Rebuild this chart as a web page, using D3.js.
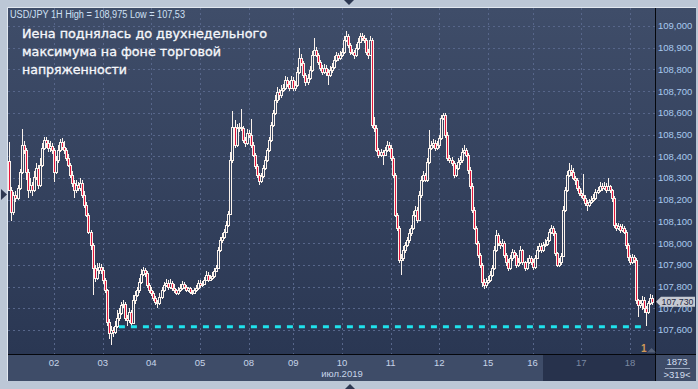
<!DOCTYPE html>
<html><head><meta charset="utf-8">
<script src="https://cdn.jsdelivr.net/npm/d3@7"></script>
<style>html,body{margin:0;padding:0;background:#bcc7d6;overflow:hidden}svg{display:block}</style>
</head><body>
<svg id="c" width="698" height="389"></svg>
<script>
// ---------- DATA ----------
const headerText = "USD/JPY 1H High = 108,975 Low = 107,53";
const titleLines = ["Иена поднялась до двухнедельного", "максимума на фоне торговой", "напряженности"];
const dayLabels = ["01","02","03","04","05","08","09","10","11","12","15","16","17","18"];
const dayCounts = [22,24,24,24,24,22,24,24,24,24,22,24,24,12];
const monthLabel = "июл.2019";
const priceTicks = [107.6,107.7,107.8,107.9,108.0,108.1,108.2,108.3,108.4,108.5,108.6,108.7,108.8,108.9,109.0];
const firstOpen = 108.378;
const closes = [
 108.245,108.143,108.222,108.208,108.254,108.328,108.452,108.429,108.328,108.245,108.268,108.245,108.305,108.346,108.268,108.360,108.438,108.475,108.461,108.438,108.447,108.429,
 108.328,108.383,108.429,108.466,108.443,108.429,108.392,108.360,108.314,108.277,108.245,108.268,108.254,108.277,108.222,108.176,108.130,108.051,107.991,107.885,107.839,107.876,107.890,107.876,
 107.830,107.784,107.637,107.586,107.600,107.591,107.618,107.655,107.678,107.715,107.720,107.655,107.646,107.683,107.632,107.738,107.761,107.784,107.821,107.858,107.876,107.862,107.807,107.784,
 107.770,107.747,107.729,107.724,107.752,107.784,107.807,107.816,107.798,107.816,107.793,107.784,107.770,107.784,107.793,107.812,107.798,107.784,107.793,107.775,107.770,107.784,107.793,107.816,
 107.807,107.812,107.830,107.853,107.830,107.839,107.849,107.872,107.885,107.968,108.014,108.028,108.051,108.083,108.134,108.383,108.535,108.452,108.530,108.535,108.530,108.475,108.461,108.507,
 108.498,108.452,108.406,108.355,108.314,108.286,108.309,108.346,108.383,108.429,108.475,108.544,108.599,108.659,108.696,108.682,108.705,108.715,108.751,108.733,108.715,108.751,
 108.715,108.728,108.788,108.853,108.830,108.774,108.742,108.761,108.797,108.866,108.890,108.866,108.834,108.807,108.788,108.807,108.788,108.774,108.797,108.811,108.843,108.866,108.853,108.866,
 108.880,108.936,108.954,108.912,108.880,108.880,108.866,108.899,108.926,108.954,108.945,108.936,108.880,108.866,108.936,108.544,108.530,108.429,108.406,108.420,108.406,108.429,108.452,108.438,
 108.392,108.314,108.130,108.070,107.922,107.931,107.968,107.991,108.014,108.047,108.070,108.130,108.153,108.107,108.222,108.291,108.314,108.291,108.374,108.438,108.452,108.461,108.438,108.452,
 108.484,108.576,108.590,108.498,108.392,108.383,108.369,108.314,108.346,108.374,108.383,108.420,108.429,108.406,108.337,108.263,108.153,108.070,108.000,107.945,107.899,107.821,107.807,107.821,
 107.830,107.853,107.885,107.968,108.037,108.000,107.991,108.000,107.945,107.913,107.885,107.931,107.959,107.945,107.899,107.913,107.968,107.913,107.885,107.913,107.931,107.913,
 107.890,107.931,107.968,107.987,107.968,107.991,107.996,108.014,108.051,108.070,108.047,107.954,107.899,107.913,107.941,108.153,108.245,108.314,108.337,108.328,108.300,108.291,108.254,108.231,
 108.222,108.208,108.185,108.176,108.190,108.199,108.208,108.235,108.245,108.263,108.254,108.263,108.245,108.263,108.245,108.208,108.083,108.070,108.079,108.060,108.070,108.051,107.991,107.936,
 107.913,107.936,107.922,107.738,107.715,107.724,107.738,107.701,107.683,107.724,107.747,107.729
];
const highs = [
 108.467,108.26,108.235,108.24,108.27,108.34,108.525,108.47,108.44,108.34,108.30,108.28,108.33,108.37,108.36,108.39,108.46,108.49,108.49,108.475,108.47,108.46,
 108.44,108.40,108.45,108.48,108.485,108.47,108.44,108.41,108.37,108.33,108.29,108.29,108.28,108.30,108.29,108.24,108.19,108.14,108.06,108.00,107.90,107.91,107.91,107.905,
 107.89,107.84,107.79,107.65,107.62,107.615,107.64,107.69,107.70,107.73,107.74,107.73,107.67,107.70,107.69,107.76,107.78,107.80,107.84,107.88,107.89,107.885,107.87,107.815,
 107.80,107.78,107.755,107.74,107.77,107.80,107.82,107.835,107.83,107.835,107.825,107.81,107.79,107.80,107.81,107.825,107.82,107.805,107.80,107.80,107.785,107.795,107.805,107.83,
 107.83,107.825,107.845,107.87,107.865,107.855,107.865,107.885,107.90,107.98,108.03,108.045,108.065,108.10,108.15,108.42,108.61,108.565,108.55,108.555,108.62,108.54,108.49,108.525,
 108.52,108.57,108.465,108.415,108.365,108.325,108.325,108.36,108.40,108.44,108.49,108.56,108.615,108.68,108.72,108.71,108.73,108.735,108.77,108.765,108.745,108.77,
 108.765,108.745,108.81,108.90,108.87,108.84,108.785,108.78,108.815,108.885,108.945,108.905,108.875,108.845,108.82,108.825,108.82,108.80,108.815,108.83,108.86,108.88,108.875,108.885,
 108.90,108.955,108.975,108.965,108.92,108.895,108.89,108.915,108.945,108.97,108.97,108.96,108.945,108.895,108.955,108.945,108.58,108.545,108.44,108.435,108.43,108.445,108.47,108.465,
 108.45,108.40,108.325,108.14,108.08,107.95,107.985,108.005,108.03,108.065,108.085,108.15,108.17,108.165,108.24,108.31,108.33,108.325,108.39,108.52,108.47,108.48,108.475,108.47,
 108.50,108.59,108.60,108.60,108.51,108.405,108.395,108.38,108.36,108.39,108.40,108.44,108.45,108.44,108.415,108.35,108.275,108.165,108.08,108.01,107.955,107.91,107.835,107.84,
 107.85,107.87,107.90,107.985,108.06,108.045,108.01,108.02,108.01,107.955,107.925,107.945,107.975,107.97,107.955,107.93,107.985,107.975,107.92,107.93,107.945,107.94,
 107.925,107.945,107.985,108.00,108.00,108.005,108.02,108.03,108.065,108.085,108.08,108.055,107.96,107.93,107.955,108.17,108.26,108.33,108.37,108.36,108.345,108.31,108.30,108.265,
 108.245,108.32,108.22,108.20,108.205,108.215,108.225,108.25,108.26,108.28,108.275,108.28,108.275,108.30,108.27,108.25,108.215,108.095,108.095,108.09,108.09,108.08,108.06,108.00,
 107.945,107.95,107.945,107.93,107.745,107.74,107.755,107.75,107.71,107.735,107.765,107.76
];
const lows = [
 108.24,108.10,108.13,108.19,108.20,108.245,108.32,108.41,108.29,108.21,108.23,108.215,108.235,108.29,108.25,108.26,108.35,108.43,108.44,108.42,108.42,108.41,
 108.28,108.32,108.37,108.42,108.43,108.41,108.38,108.35,108.30,108.26,108.21,108.23,108.24,108.24,108.21,108.16,108.12,108.04,107.97,107.76,107.82,107.83,107.86,107.86,
 107.81,107.77,107.62,107.56,107.53,107.57,107.58,107.61,107.64,107.67,107.70,107.64,107.62,107.63,107.62,107.63,107.72,107.75,107.77,107.81,107.85,107.845,107.795,107.77,
 107.755,107.735,107.715,107.70,107.715,107.745,107.775,107.80,107.785,107.79,107.78,107.77,107.76,107.76,107.775,107.785,107.79,107.775,107.775,107.765,107.76,107.765,107.775,107.785,
 107.795,107.80,107.805,107.825,107.82,107.825,107.83,107.84,107.865,107.88,107.96,108.00,108.02,108.045,108.075,108.13,108.37,108.44,108.445,108.51,108.515,108.46,108.445,108.45,
 108.485,108.44,108.395,108.34,108.30,108.27,108.275,108.30,108.335,108.375,108.42,108.465,108.535,108.59,108.645,108.66,108.67,108.695,108.705,108.72,108.70,108.71,
 108.70,108.70,108.72,108.78,108.815,108.76,108.725,108.73,108.75,108.79,108.86,108.855,108.82,108.795,108.775,108.78,108.77,108.73,108.765,108.785,108.80,108.835,108.84,108.845,
 108.855,108.87,108.925,108.90,108.865,108.865,108.85,108.855,108.89,108.92,108.93,108.92,108.865,108.85,108.86,108.53,108.51,108.42,108.39,108.395,108.36,108.40,108.42,108.42,
 108.38,108.30,108.12,108.055,107.91,107.855,107.92,107.955,107.98,108.00,108.035,108.06,108.12,108.095,108.10,108.21,108.28,108.28,108.28,108.365,108.43,108.44,108.425,108.43,
 108.44,108.475,108.565,108.485,108.38,108.37,108.355,108.30,108.305,108.335,108.36,108.37,108.41,108.395,108.32,108.25,108.14,108.06,107.99,107.93,107.885,107.80,107.79,107.795,
 107.81,107.82,107.845,107.875,107.96,107.985,107.975,107.98,107.93,107.895,107.87,107.875,107.92,107.93,107.885,107.89,107.905,107.90,107.87,107.875,107.905,107.90,
 107.875,107.88,107.925,107.96,107.955,107.96,107.98,107.985,108.005,108.04,108.035,107.94,107.89,107.89,107.90,107.935,108.145,108.235,108.305,108.31,108.29,108.27,108.24,108.215,
 108.21,108.195,108.17,108.15,108.165,108.18,108.19,108.20,108.225,108.235,108.24,108.245,108.23,108.24,108.23,108.19,108.07,108.055,108.06,108.045,108.05,108.04,107.975,107.92,
 107.90,107.905,107.91,107.72,107.66,107.70,107.69,107.68,107.62,107.675,107.715,107.715
];
const supportLevel = 107.615;
const supportFromIdx = 54, supportToIdx = 313;
const lastPrice = 107.730;
const barsTotal = "1873", barsVisible = ">319<";

// ---------- LAYOUT ----------
const svg = d3.select("#c");
const N = closes.length;
const PL = 8, PT = 8, PR = 655, PB = 354.5, RR = 696, BB = 381;
const x = d3.scaleLinear().domain([0, N - 1]).range([9.4, 9.4 + (N - 1) * 2.028]);
const y = d3.scaleLinear().domain([107.6, 109.0]).range([330, 26]);
const fmtP = v => d3.format(".3f")(v).replace(".", ",");
const sans = "Liberation Sans, Arial, sans-serif";

const defs = svg.append("defs");
const g1 = defs.append("linearGradient").attr("id","bg").attr("x1",0).attr("y1",0).attr("x2",0).attr("y2",1);
g1.append("stop").attr("offset","0%").attr("stop-color","#3f4d69");
g1.append("stop").attr("offset","100%").attr("stop-color","#2a3753");
defs.append("clipPath").attr("id","plotclip").append("rect").attr("x",PL).attr("y",PT).attr("width",PR-PL).attr("height",PB-PT);

svg.append("rect").attr("width",698).attr("height",389).attr("fill","#bcc7d6");
svg.append("rect").attr("x",PL).attr("y",PT).attr("width",RR-PL).attr("height",PB-PT).attr("fill","url(#bg)");
svg.append("rect").attr("x",PL).attr("y",355).attr("width",PR-PL).attr("height",BB-355).attr("fill","#3e4c68");
svg.append("rect").attr("x",543).attr("y",355).attr("width",PR-543).attr("height",BB-355).attr("fill","#27324c");
svg.append("rect").attr("x",PR).attr("y",355).attr("width",RR-PR).attr("height",BB-355).attr("fill","#3e4c68");
svg.append("line").attr("x1",PL-0.5).attr("x2",RR).attr("y1",PT-0.5).attr("y2",PT-0.5).attr("stroke","#e2e8f0");
svg.append("line").attr("x1",PL-0.5).attr("x2",PL-0.5).attr("y1",PT-0.5).attr("y2",BB).attr("stroke","#e2e8f0");

// grid
const plot = svg.append("g").attr("clip-path","url(#plotclip)");
plot.selectAll("line.hg").data(priceTicks).join("line")
  .attr("x1",PL).attr("x2",PR).attr("y1",d=>Math.round(y(d))+0.5).attr("y2",d=>Math.round(y(d))+0.5)
  .attr("stroke","#57668a").attr("stroke-dasharray","2,3");
const dayStarts = [];
let acc = 0;
dayCounts.forEach(c=>{ dayStarts.push(acc); acc += c; });
const dayTicks = dayStarts.map((s,k)=>({idx:s,label:dayLabels[k]})).slice(1);
plot.selectAll("line.vg").data(dayTicks).join("line")
  .attr("x1",d=>Math.round(x(d.idx))+0.5).attr("x2",d=>Math.round(x(d.idx))+0.5)
  .attr("y1",PT).attr("y2",PB).attr("stroke","#57668a").attr("stroke-dasharray","2,3");

// candles
const candles = d3.range(N).map(i=>{
  const o = i===0 ? firstOpen : closes[i-1], c = closes[i];
  return {i,o,c,h:Math.max(highs[i],o,c),l:Math.min(lows[i],o,c)};
});
const cg = plot.append("g");
candles.forEach(d=>{
  const cx = Math.round(x(d.i));
  let yT = Math.round(y(Math.max(d.o,d.c))), yB = Math.round(y(Math.min(d.o,d.c)));
  if (yB - yT < 1) yB = yT + 1;
  const yH = Math.round(y(d.h)), yL = Math.round(y(d.l));
  if (yH < yT) cg.append("line").attr("x1",cx+0.5).attr("x2",cx+0.5).attr("y1",yH).attr("y2",yT).attr("stroke","#fbf3ec");
  if (yL > yB+1) cg.append("line").attr("x1",cx+0.5).attr("x2",cx+0.5).attr("y1",yB+1).attr("y2",yL).attr("stroke","#fbf3ec");
  cg.append("rect").attr("x",cx-0.5).attr("y",yT+0.5).attr("width",2).attr("height",yB-yT)
    .attr("fill", d.c < d.o ? "#e3163c" : "none").attr("stroke","#fbf3ec").attr("stroke-width",1);
});

// support dashed line
plot.append("line").attr("x1",x(supportFromIdx)).attr("x2",x(supportToIdx))
  .attr("y1",y(supportLevel)).attr("y2",y(supportLevel))
  .attr("stroke","#1fe2ec").attr("stroke-width",3).attr("stroke-dasharray","6,6");

// separators
svg.append("line").attr("x1",PR+0.5).attr("x2",PR+0.5).attr("y1",PT).attr("y2",BB).attr("stroke","#05070c");
svg.append("line").attr("x1",PL).attr("x2",RR).attr("y1",PB).attr("y2",PB).attr("stroke","#05070c");

// price axis
svg.selectAll("text.pt").data(priceTicks).join("text")
  .attr("x",658).attr("y",d=>y(d)+3.4).attr("fill","#a9c9ee")
  .attr("font-family",sans).attr("font-size","9.5px").text(fmtP);
const yl = y(lastPrice);
svg.append("path").attr("d",`M656,${yl} L661,${yl-5} L695,${yl-5} L695,${yl+5} L661,${yl+5} Z`).attr("fill","#c6cad2");
svg.append("text").attr("x",661.5).attr("y",yl+3.3).attr("fill","#1e2842")
  .attr("font-family",sans).attr("font-size","9.5px")
  .attr("textLength",32).attr("lengthAdjust","spacingAndGlyphs").text(fmtP(lastPrice));

// time axis
svg.selectAll("text.dt").data(dayTicks).join("text")
  .attr("x",d=>x(d.idx)).attr("y",366).attr("text-anchor","middle")
  .attr("fill",d=>x(d.idx) > 543 ? "#7b89a2" : "#c6d4e8")
  .attr("font-family",sans).attr("font-size","9.5px").text(d=>d.label);
svg.append("text").attr("x",342).attr("y",377).attr("text-anchor","middle").attr("fill","#c6d4e8")
  .attr("font-family",sans).attr("font-size","9.5px").text(monthLabel);
svg.append("text").attr("x",677).attr("y",365).attr("text-anchor","middle").attr("fill","#d2deee")
  .attr("font-family",sans).attr("font-size","9.5px").text(barsTotal);
svg.append("line").attr("x1",665).attr("x2",690).attr("y1",368.5).attr("y2",368.5).attr("stroke","#9aa8bf");
svg.append("text").attr("x",677).attr("y",377.5).attr("text-anchor","middle").attr("fill","#d2deee")
  .attr("font-family",sans).attr("font-size","9.5px").text(barsVisible);

// "1" marker
svg.append("text").attr("x",641).attr("y",352).attr("fill","#d39a58").attr("font-weight","bold")
  .attr("font-family",sans).attr("font-size","10px").text("1");
svg.append("path").attr("d","M647,352.5 L651.5,348 L656,352.5 Z").attr("fill","#56627a");

// header + title
svg.append("text").attr("x",10).attr("y",17.5).attr("fill","#cfe0f4")
  .attr("font-family",sans).attr("font-size","10px")
  .attr("textLength",175).attr("lengthAdjust","spacingAndGlyphs").text(headerText);
const tl = [245, 199, 105], tb = [37.5, 55.5, 74];
titleLines.forEach((t,k)=>{
  svg.append("text").attr("x",22).attr("y",tb[k]).attr("fill","#f5f7fb")
    .attr("stroke","#f5f7fb").attr("stroke-width",0.35)
    .attr("font-family","DejaVu Sans, sans-serif").attr("font-size","13px")
    .attr("textLength",tl[k]).attr("lengthAdjust","spacingAndGlyphs").text(t);
});

// small frame arrows
svg.append("path").attr("d","M344,0 L354,0 L349,5 Z").attr("fill","#2d3852");
svg.append("path").attr("d","M345,389 L355,389 L350,384 Z").attr("fill","#2d3852");
svg.append("path").attr("d","M1,189 L1,200 L7,194.5 Z").attr("fill","#2d3852");
</script>
</body></html>
